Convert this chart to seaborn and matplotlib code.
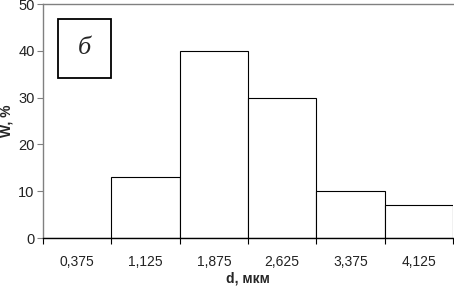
import matplotlib
matplotlib.use("Agg")
import matplotlib.pyplot as plt
from matplotlib.patches import Rectangle
import seaborn as sns
import pandas as pd

# data
diameters = ["0,375", "1,125", "1,875", "2,625", "3,375", "4,125"]
shares = [0, 13, 40, 30, 10, 7]
y_ticks = [0, 10, 20, 30, 40, 50]

sns.set_style("white")
plt.rcParams["font.family"] = ["Liberation Sans", "DejaVu Sans"]

df = pd.DataFrame({"d": diameters, "W": shares})

fig = plt.figure(figsize=(4.54, 2.89), dpi=100)
ax = fig.add_axes([43 / 454, 51 / 289, 410 / 454, 234 / 289])

sns.barplot(data=df, x="d", y="W", ax=ax, width=1.0, color="white",
            edgecolor="black", linewidth=0.8, saturation=1)

ax.set_xlim(-0.5, len(diameters) - 0.5)
ax.set_ylim(0, 50)
ax.set_yticks(y_ticks)
ax.tick_params(axis="y", labelsize=10.5, length=4, width=0.8,
               color="#808080", labelcolor="#222222", left=True, pad=2)

# category labels centred, tick marks at bin boundaries
ax.set_xticks([i - 0.5 for i in range(len(diameters) + 1)])
ax.set_xticklabels([])
ax.set_xticks(range(len(diameters)), minor=True)
ax.set_xticklabels(diameters, minor=True)
ax.tick_params(axis="x", which="major", length=4, width=0.8, color="black",
               bottom=True)
ax.tick_params(axis="x", which="minor", length=0, labelsize=10,
               labelcolor="#222222", pad=12)

ax.set_xlabel("d, мкм", fontsize=10, fontweight="bold", labelpad=2)
ax.set_ylabel("W, %", fontsize=10, fontweight="bold")
ax.yaxis.set_label_coords(-0.072, 0.5)

for side in ["left", "top"]:
    ax.spines[side].set_color("#808080")
    ax.spines[side].set_linewidth(1.0)
ax.spines["bottom"].set_color("black")
ax.spines["bottom"].set_linewidth(1.0)
ax.spines["right"].set_visible(False)

# inset label box
ax.add_patch(Rectangle((0.0366, 0.684), 0.129, 0.252, transform=ax.transAxes,
                       facecolor="white", edgecolor="black", linewidth=1.3,
                       zorder=5))
ax.text(0.101, 0.81, "б", transform=ax.transAxes, fontsize=19,
        family=["Liberation Serif", "DejaVu Serif"], style="italic",
        ha="center", va="center", zorder=6)

fig.savefig("out.png", dpi=100)
